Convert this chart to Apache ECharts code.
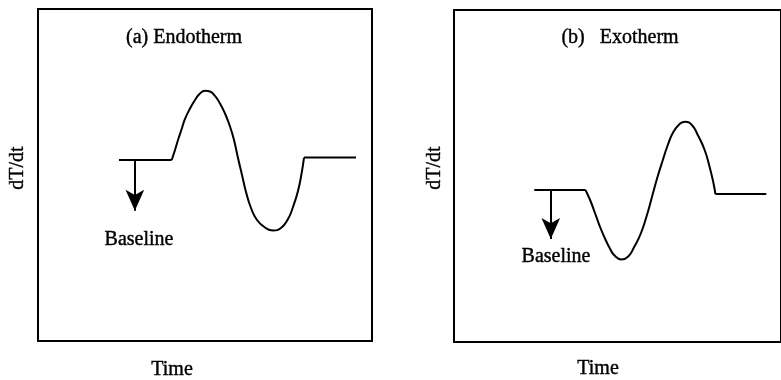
<!DOCTYPE html>
<html>
<head>
<meta charset="utf-8">
<script src="https://cdn.jsdelivr.net/npm/echarts@6/dist/echarts.min.js"></script>
<style>
html,body{margin:0;padding:0;background:#fff;}
#chart{width:781px;height:380px;}
</style>
</head>
<body>
<div id="chart"></div>
<script>
// Panel (a) Endotherm: time vs dT/dt (arbitrary units 0-100)
const endoTime   = [24.25, 40.03, 41.02, 42.01, 43.02, 44.01, 45.51, 47.01, 48.50, 50.00, 51.50, 52.99, 54.49, 55.99, 57.49, 58.68, 59.88, 61.08, 62.28, 63.77, 65.57, 67.96, 70.36, 72.75, 74.85, 76.35, 77.84, 78.89, 79.64, 95.21];
const endoSignal = [54.52, 54.52, 57.53, 60.84, 63.86, 66.87, 70.03, 72.59, 74.55, 75.36, 75.15, 73.80, 71.54, 68.52, 64.61, 60.54, 55.12, 50.00, 44.88, 40.06, 36.45, 34.19, 33.28, 34.04, 36.75, 40.36, 45.18, 50.30, 55.27, 55.27];
// Panel (b) Exotherm
const exoTime   = [24.55, 40.21, 41.62, 43.11, 44.61, 46.11, 47.60, 49.10, 51.20, 53.29, 55.09, 57.19, 59.28, 60.78, 62.28, 63.77, 65.27, 67.07, 69.16, 70.66, 72.75, 74.55, 76.65, 78.14, 79.34, 79.94, 95.51];
const exoSignal = [45.78, 45.78, 42.77, 38.86, 34.79, 31.33, 28.31, 26.05, 24.85, 25.75, 28.61, 32.83, 39.16, 44.58, 49.85, 54.52, 59.04, 63.25, 65.81, 66.36, 65.36, 62.35, 57.83, 52.86, 47.89, 44.58, 44.58];
// Baseline arrows: [time, from, to]
const endoArrow = [29.0, 54.5, 39.2];
const exoArrow  = [29.6, 45.8, 31.0];
// Texts
const titleA = '(a) Endotherm';
const titleB = '(b)   Exotherm';
const yLabel = 'dT/dt';
const xLabel = 'Time';
const arrowLabel = 'Baseline';

function pts(xs, ys, a, b) {
  const out = [];
  for (let i = a; i <= b; i++) out.push([xs[i], ys[i]]);
  return out;
}
const FONT = '"Liberation Serif", "Times New Roman", serif';
const lineStyle = {color: '#000', width: 2};

function panelSeries(idx, xs, ys, arrow) {
  const n = xs.length;
  return [
    {type: 'line', xAxisIndex: idx, yAxisIndex: idx, data: pts(xs, ys, 0, 1), symbol: 'none', lineStyle: lineStyle, silent: true,
     markLine: {silent: true, symbol: ['none', 'arrow'], symbolSize: [14, 21], label: {show: false},
       lineStyle: {color: '#000', width: 2, type: 'solid'},
       data: [[{coord: [arrow[0], arrow[1]]}, {coord: [arrow[0], arrow[2]]}]]}},
    {type: 'line', xAxisIndex: idx, yAxisIndex: idx, data: pts(xs, ys, 1, n - 2), symbol: 'none', smooth: 0.5, lineStyle: lineStyle, silent: true},
    {type: 'line', xAxisIndex: idx, yAxisIndex: idx, data: pts(xs, ys, n - 2, n - 1), symbol: 'none', lineStyle: lineStyle, silent: true}
  ];
}

function txt(x, y, s, rot) {
  return {type: 'text', x: x, y: y, rotation: rot || 0,
    style: {text: s, font: '20px ' + FONT, fill: '#000', stroke: '#000', lineWidth: 0.4, textAlign: 'center', textVerticalAlign: 'middle'}};
}

const chart = echarts.init(document.getElementById('chart'), null, {renderer: 'canvas'});
chart.setOption({
  animation: false,
  grid: [
    {left: 38, top: 9, width: 334, height: 332, show: true, borderColor: '#000', borderWidth: 2, backgroundColor: 'transparent'},
    {left: 454, top: 10, width: 334, height: 332, show: true, borderColor: '#000', borderWidth: 2, backgroundColor: 'transparent'}
  ],
  xAxis: [
    {type: 'value', gridIndex: 0, min: 0, max: 100, show: false},
    {type: 'value', gridIndex: 1, min: 0, max: 100, show: false}
  ],
  yAxis: [
    {type: 'value', gridIndex: 0, min: 0, max: 100, show: false},
    {type: 'value', gridIndex: 1, min: 0, max: 100, show: false}
  ],
  series: [].concat(panelSeries(0, endoTime, endoSignal, endoArrow), panelSeries(1, exoTime, exoSignal, exoArrow)),
  graphic: [
    txt(184, 38, titleA),
    txt(620, 38, titleB),
    txt(139, 240, arrowLabel),
    txt(556, 257, arrowLabel),
    txt(172, 370, xLabel),
    txt(598, 369, xLabel),
    txt(18, 168, yLabel, Math.PI / 2),
    txt(435, 168, yLabel, Math.PI / 2)
  ]
});
</script>
</body>
</html>
